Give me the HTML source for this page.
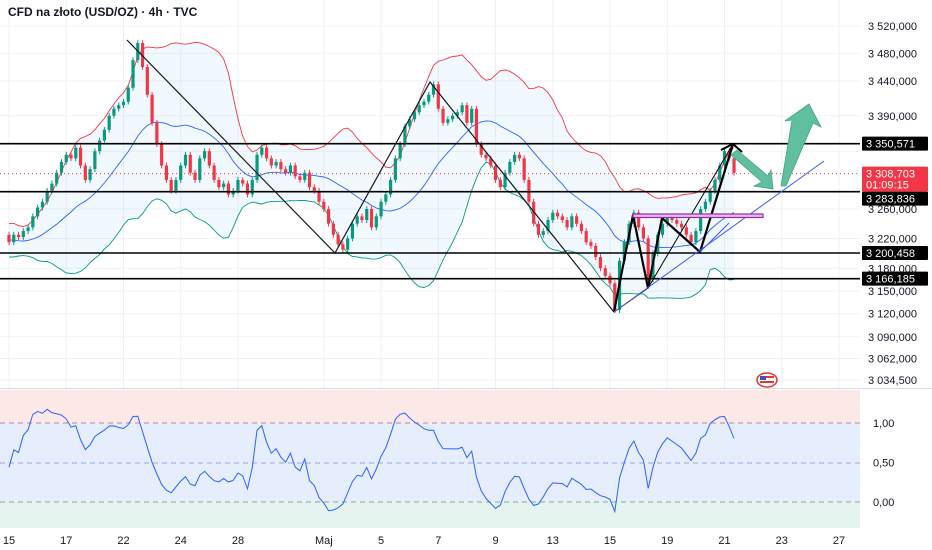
<!DOCTYPE html>
<html><head><meta charset="utf-8">
<style>
html,body{margin:0;padding:0;background:#fff;}
svg{display:block;font-family:"Liberation Sans",sans-serif;}
</style></head>
<body>
<svg id="chart" width="932" height="550" viewBox="0 0 932 550">
  <defs>
    <clipPath id="mainClip"><rect x="0" y="0" width="860" height="388"/></clipPath>
    <clipPath id="oscClip"><rect x="0" y="390" width="860" height="138"/></clipPath>
  </defs>
  <rect x="0" y="0" width="932" height="550" fill="#fff"/>
  <g id="grid"></g>
  <g id="osc-bg">
    <rect x="0" y="390" width="860" height="33" fill="#fde8e8"/>
    <rect x="0" y="423" width="860" height="79" fill="#e6edfc"/>
    <rect x="0" y="502" width="860" height="26" fill="#e5f4ee"/>
    <line x1="0" x2="860" y1="423" y2="423" stroke="#b08b9a" stroke-dasharray="5,4"/>
    <line x1="0" x2="860" y1="463" y2="463" stroke="#9aa6e0" stroke-dasharray="5,4"/>
    <line x1="0" x2="860" y1="502" y2="502" stroke="#8fa5a0" stroke-dasharray="5,4"/>
  </g>
  <g id="main" clip-path="url(#mainClip)"></g>
  <g id="osc" clip-path="url(#oscClip)"></g>
  <g id="drawings" clip-path="url(#mainClip)"></g>
  <g id="axes"></g>
  <text x="8" y="16" font-size="12" font-weight="bold" fill="#131722">CFD na złoto (USD/OZ) · 4h · TVC</text>
  <g>
    <ellipse cx="767" cy="380" rx="10" ry="7" fill="#fff" stroke="#e53935" stroke-width="1.5"/>
    <rect x="760" y="376" width="14" height="2" fill="#e53935"/>
    <rect x="760" y="381" width="14" height="2" fill="#e53935"/>
    <rect x="760" y="376" width="6" height="4" fill="#3f51b5"/>
  </g>
</svg>
<script>
const preCloses = [3230,3225,3240,3235,3220,3210,3215,3200,3190,3205,3215,3210,3225,3220,3215,3230,3225,3215,3220,3225];
const closes = [
3215,3225,3222,3230,3235,3250,3262,3270,3285,3295,
3310,3325,3335,3330,3345,3320,3300,3315,3340,3355,
3370,3390,3400,3405,3410,3430,3470,3495,3460,3420,
3380,3350,3320,3300,3285,3300,3320,3335,3310,3300,
3330,3340,3320,3300,3290,3295,3280,3285,3300,3295,
3280,3300,3335,3345,3330,3320,3325,3315,3310,3320,
3305,3300,3310,3290,3285,3270,3260,3240,3225,3212,
3205,3220,3240,3250,3245,3260,3235,3250,3270,3280,
3300,3330,3350,3375,3385,3395,3405,3410,3420,3435,
3400,3380,3385,3390,3395,3405,3380,3400,3350,3335,
3330,3320,3300,3290,3310,3325,3335,3330,3300,3270,
3240,3225,3230,3245,3255,3250,3245,3235,3250,3240,
3230,3215,3210,3195,3180,3170,3160,3125,3190,3215,
3240,3255,3235,3220,3165,3200,3225,3240,3250,3245,
3240,3235,3225,3215,3230,3260,3270,3285,3300,3320,
3340,3330,3310];
const priceTicks = [3520,3480,3440,3390,3340,3260,3220,3180,3150,3120,3090,3062,3034.5];
const levels = [3350.571,3283.836,3200.458,3166.185];
const lastPrice = 3308.703;
const dateLabels = ["15","17","22","24","28","Maj","5","7","9","13","15","19","21","23","27"];
const dateSlots = [0,12,24,36,48,66,78,90,102,114,126,138,150,162,174];
const oscTicks = [1.0,0.5,0.0];

const NS="http://www.w3.org/2000/svg";
function el(tag,attrs,parent){const e=document.createElementNS(NS,tag);for(const k in attrs)e.setAttribute(k,attrs[k]);parent.appendChild(e);return e;}
const P0=3520,P1=3034.5,Y0=26,Y1=380;
function yP(p){return Y0+(Math.log(P0/p)/Math.log(P0/P1))*(Y1-Y0);}
const STEP=4.77;
function xI(i){return 9+i*STEP;}
function yO(v){return 502-v*79;}

const main=document.getElementById('main'),osc=document.getElementById('osc'),grid=document.getElementById('grid'),axes=document.getElementById('axes'),draw=document.getElementById('drawings');

dateSlots.forEach(s=>{const g=el('line',{x1:xI(s),x2:xI(s),y1:0,y2:528,stroke:'#eef0f3'},grid);

});
priceTicks.forEach(p=>{const g=el('line',{x1:0,x2:860,y1:yP(p),y2:yP(p),stroke:'#f0f2f5'},grid);

});
el('line',{x1:0,x2:932,y1:388.5,y2:388.5,stroke:'#d8dce3'},grid);

const all=preCloses.concat(closes);const N=20;
const up=[],mid=[],lo=[],pb=[];
for(let i=0;i<closes.length;i++){const j=i+preCloses.length;const w=all.slice(j-N+1,j+1);
const m=w.reduce((a,b)=>a+b,0)/N;const sd=Math.sqrt(w.reduce((a,b)=>a+(b-m)*(b-m),0)/N);
mid.push(m);up.push(m+2*sd);lo.push(m-2*sd);pb.push((closes[i]-(m-2*sd))/(4*sd||1));}
function pathOf(arr,fy){return arr.map((v,i)=>(i?'L':'M')+xI(i).toFixed(1)+','+fy(v).toFixed(1)).join('');}
let fill=pathOf(up,yP)+lo.map((v,i)=>i).reverse().map(i=>'L'+xI(i).toFixed(1)+','+yP(lo[i]).toFixed(1)).join('')+'Z';
const bf=el('path',{d:fill,fill:'rgba(33,150,243,0.06)'},main);


const bu=el('path',{d:pathOf(up,yP),fill:'none',stroke:'#f23645',"stroke-width":0.9},main);


const bm=el('path',{d:pathOf(mid,yP),fill:'none',stroke:'#2962ff',"stroke-width":0.9},main);


const bl=el('path',{d:pathOf(lo,yP),fill:'none',stroke:'#089981',"stroke-width":0.9},main);



closes.forEach((c,i)=>{const o=i?closes[i-1]:preCloses[preCloses.length-1];
const upC=c>=o,col=upC?'#089981':'#f23645';const x=xI(i);
const hi=Math.max(o,c)+4,lw=Math.min(o,c)-4;
const g=el('g',{},main);


el('line',{x1:x,x2:x,y1:yP(hi),y2:yP(lw),stroke:col},g);
const t=Math.min(yP(o),yP(c)),h=Math.max(1,Math.abs(yP(o)-yP(c)));
el('rect',{x:x-1.6,y:t,width:3.2,height:h,fill:col},g);});

const op=el('path',{d:pathOf(pb,yO),fill:'none',stroke:'#2962ff',"stroke-width":1},osc);



levels.forEach(v=>{const l=el('line',{x1:0,x2:862,y1:yP(v),y2:yP(v),stroke:'#000',"stroke-width":1.6},draw);

});
const cp=el('line',{x1:0,x2:860,y1:yP(lastPrice),y2:yP(lastPrice),stroke:'#f23645',"stroke-dasharray":'1,3'},draw);


const zz1=el('polyline',{points:'127,40 335,253 430,82 614,312',fill:'none',stroke:'#131722',"stroke-width":1.2},draw);


const zz2=el('polyline',{points:'614,312 633,215 648,288 662,218 700,252 733,144',fill:'none',stroke:'#000',"stroke-width":2.2},draw);


const th=el('polyline',{points:'614,312 648,288 733,144',fill:'none',stroke:'#000',"stroke-width":1},draw);


const ah=el('polyline',{points:'721,150 733,144 742,152',fill:'none',stroke:'#000',"stroke-width":2},draw);


const bt=el('line',{x1:614,y1:312,x2:824,y2:161,stroke:'#3d5afe',"stroke-width":1},draw);


const bt2=el('line',{x1:700,y1:252,x2:729,y2:223,stroke:'#3d5afe',"stroke-width":1},draw);


const pr=el('rect',{x:633,y:214,width:130,height:3.5,fill:'#e1bee7',stroke:'#9c27b0',"stroke-width":1.2},draw);


const ga1=el('polygon',{points:'737,150 768,176 771,170 773,189 754,186 762,182 731,155',fill:'#5fbf9f',stroke:'#3ea585',"stroke-width":0.8},draw);


const ga2=el('polygon',{points:'781,186 792,120 785,121 809,104 821,127 813,123 786,186',fill:'#5fbf9f',stroke:'#3ea585',"stroke-width":0.8},draw);



const hidden=new Set([3340]);
priceTicks.forEach(p=>{if(hidden.has(p))return;
const t=el('text',{x:868,y:yP(p)+4,"font-size":11,fill:'#131722'},axes);
t.textContent=p.toLocaleString('fr-FR',{minimumFractionDigits:3}).replace(/\u202f|\u00a0/g,' ').replace('.',',');

});
function fmt(v){return v.toFixed(3).replace('.',',').replace(/^(\d)(\d{3})/,'$1 $2');}
const lpY=yP(lastPrice);
levels.forEach(v=>{let y=yP(v);
if(y>lpY-7&&y<lpY+26)y=lpY+25;
const g=el('g',{},axes);


el('rect',{x:862,y:y-7,width:66,height:14,fill:'#000',rx:1},g);
const t=el('text',{x:866,y:y+4,"font-size":11,fill:'#fff'},g);t.textContent=fmt(v);});
{const y=lpY;const g=el('g',{},axes);


el('rect',{x:862,y:y-7,width:66,height:25,fill:'#f23645',rx:1},g);
const t=el('text',{x:866,y:y+4,"font-size":11,fill:'#fff'},g);t.textContent=fmt(lastPrice);
const t2=el('text',{x:866,y:y+15,"font-size":11,fill:'#fff'},g);t2.textContent='01:09:15';}
oscTicks.forEach(v=>{const t=el('text',{x:873,y:yO(v)+4,"font-size":11,fill:'#131722'},axes);
t.textContent=v.toFixed(2).replace('.',',');

});
dateLabels.forEach((d,k)=>{const t=el('text',{x:xI(dateSlots[k]),y:544,"font-size":11,fill:'#131722',"text-anchor":'middle'},axes);
t.textContent=d;

});
</script>
</body></html>
